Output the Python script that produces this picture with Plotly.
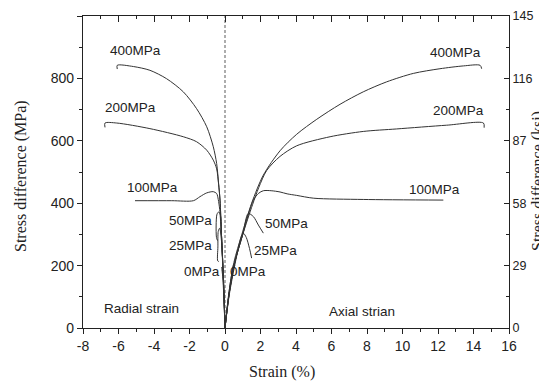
import plotly.graph_objects as go

# ---- data (strain %, stress difference MPa) ----
ax400_x = [0, 0.2, 0.5, 0.95, 1.5, 2.16, 3.1, 4.04, 5.17, 6.48, 7.79, 9.11, 10.61, 12.11, 13.43, 14.37, 14.46]
ax400_y = [0, 105, 210, 300, 400, 490, 568, 621, 669, 717, 757, 789, 816, 831, 840, 842, 831]
ax200_x = [0, 0.22, 0.55, 1.0, 1.55, 1.9, 2.35, 3.1, 4.04, 5.92, 7.79, 9.67, 12.49, 14.56, 14.6]
ax200_y = [0, 105, 210, 300, 395, 450, 505, 550, 584, 613, 630, 638, 650, 657, 642]
ax100_x = [0, 0.22, 0.55, 1.0, 1.6, 1.9, 2.16, 2.6, 3.1, 3.5, 4.04, 5.0, 7.79, 12.3]
ax100_y = [0, 105, 210, 300, 410, 432, 440, 440, 436, 430, 425, 416, 412, 410]
ax50_x = [0, 0.22, 0.55, 1.0, 1.31, 1.6, 1.88, 2.16]
ax50_y = [0, 105, 210, 300, 367, 357, 330, 304]
ax25_x = [0, 0.25, 0.6, 0.9, 1.03, 1.2, 1.38, 1.5]
ax25_y = [0, 110, 215, 290, 304, 290, 255, 224]
ax0_x = [0, 0.15, 0.3, 0.45, 0.5, 0.55]
ax0_y = [0, 75, 145, 195, 205, 200]

ra400_x = [0, -0.05, -0.12, -0.2, -0.28, -0.36, -0.47, -0.66, -1.03, -1.6, -2.35, -3.29, -4.23, -5.16, -6.07, -6.07]
ra400_y = [0, 100, 200, 300, 410, 463, 527, 581, 645, 703, 757, 799, 826, 838, 842, 830]
ra200_x = [0, -0.05, -0.12, -0.2, -0.28, -0.36, -0.47, -0.66, -1.03, -1.6, -2.35, -4.23, -6.1, -6.76, -6.76]
ra200_y = [0, 100, 200, 300, 410, 460, 510, 538, 570, 597, 613, 639, 657, 657, 643]
ra100_x = [0, -0.05, -0.12, -0.2, -0.3, -0.38, -0.47, -0.66, -1.03, -1.41, -1.78, -3.0, -5.07]
ra100_y = [0, 100, 200, 300, 380, 412, 431, 437, 433, 421, 408, 408, 408]
ra50_x = [0, -0.06, -0.13, -0.2, -0.25, -0.35, -0.45, -0.5, -0.48, -0.42]
ra50_y = [0, 100, 200, 300, 360, 372, 365, 330, 290, 280]
ra25_x = [0, -0.06, -0.12, -0.2, -0.3, -0.38, -0.4, -0.41, -0.35]
ra25_y = [0, 100, 200, 280, 320, 310, 260, 215, 213]
ra0_x = [0, -0.06, -0.12, -0.18, -0.15]
ra0_y = [0, 90, 160, 195, 192]

curves = [
    (ax400_x, ax400_y), (ax200_x, ax200_y), (ax100_x, ax100_y),
    (ax50_x, ax50_y), (ax25_x, ax25_y), (ax0_x, ax0_y),
    (ra400_x, ra400_y), (ra200_x, ra200_y), (ra100_x, ra100_y),
    (ra50_x, ra50_y), (ra25_x, ra25_y), (ra0_x, ra0_y),
]

# labels: (text, x, y)
labels = [
    ("400MPa", -5.07, 890), ("200MPa", -5.35, 707), ("100MPa", -4.11, 451),
    ("50MPa", -1.97, 346), ("25MPa", -1.97, 266), ("0MPa", -1.3, 182),
    ("0MPa", 1.3, 182), ("50MPa", 3.49, 336), ("25MPa", 2.82, 250),
    ("100MPa", 11.83, 445), ("200MPa", 13.13, 698), ("400MPa", 12.96, 883),
    ("Radial strain", -4.68, 61), ("Axial strian", 7.72, 54),
]

x_ticks = [-8, -6, -4, -2, 0, 2, 4, 6, 8, 10, 12, 14, 16]
x_ticktext = [str(v) for v in x_ticks]
mpa_ticks = [0, 200, 400, 600, 800, 1000]
ksi_ticks = [0, 29, 58, 87, 116, 145]

fig = go.Figure()

fig.add_trace(go.Scatter(x=[0, 0], y=[0, 1000], mode="lines",
                         line=dict(color="#777", width=1.2, dash="3px,2px"),
                         showlegend=False, hoverinfo="skip"))
for cx, cy in curves:
    fig.add_trace(go.Scatter(x=cx, y=cy, mode="lines", line_shape="spline",
                             line=dict(color="#333", width=1, smoothing=0.8),
                             showlegend=False))

fig.add_trace(go.Scatter(x=[None], y=[None], xaxis="x2", yaxis="y2", showlegend=False))

for t, x, y in labels:
    fig.add_annotation(x=x, y=y, text=t, showarrow=False, xref="x", yref="y",
                       font=dict(family="Liberation Sans, Arial", size=13.5, color="#222"))

titlefont = dict(family="Liberation Serif, Times New Roman", size=16, color="#222")
# page body adds an 8px offset; figure size and margins compensate for it
OFF = 8
W, H = 547 - OFF, 383 - OFF
L, R, T, B = 83 - OFF, 38, 16 - OFF, 55
pw = W - L - R
ph = H - T - B

def px_x(p):
    return (p - OFF - L) / pw

def px_y(p):
    return (H - B - (p - OFF)) / ph

for text, xp, yp, ang in [("Strain (%)", 282, 372, 0),
                          ("Stress difference (MPa)", 21, 176, -90),
                          ("Stress difference (ksi)", 538, 181, -90)]:
    fig.add_annotation(text=text, x=px_x(xp), y=px_y(yp), xref="paper", yref="paper",
                       xanchor="center", yanchor="middle", showarrow=False,
                       textangle=ang, font=titlefont)

tickfont = dict(family="Liberation Sans, Arial", size=14, color="#222")

fig.update_layout(
    width=W, height=H,
    margin=dict(l=L, r=R, t=T, b=B, autoexpand=False),
    plot_bgcolor="white", paper_bgcolor="white",
    xaxis=dict(range=[-8, 16], tickvals=x_ticks, ticktext=x_ticktext, ticks="outside", ticklen=5,
               tickwidth=1, tickcolor="#222", showline=True, linecolor="#222",
               linewidth=1.2, showgrid=False, zeroline=False, tickfont=tickfont,
               automargin=False,
               minor=dict(dtick=1, ticks="outside", ticklen=3, tickcolor="#222")),
    xaxis2=dict(range=[-8, 16], dtick=2, tick0=0, overlaying="x", side="top",
                anchor="y", ticks="inside", ticklen=6, tickcolor="#222",
                showline=True, linecolor="#222", linewidth=1.2, showgrid=False,
                zeroline=False, showticklabels=False, automargin=False,
                minor=dict(dtick=1, ticks="inside", ticklen=3, tickcolor="#222")),
    yaxis=dict(range=[0, 1000], tickvals=mpa_ticks, ticks="outside", ticklen=5,
               tickcolor="#222", showline=True, linecolor="#222", linewidth=1.2,
               showgrid=False, zeroline=False, tickfont=tickfont, automargin=False,
               minor=dict(dtick=100, ticks="outside", ticklen=3, tickcolor="#222")),
    yaxis2=dict(range=[0, 145], tickvals=ksi_ticks, overlaying="y", side="right",
                anchor="x", ticks="inside", ticklen=5, tickcolor="#222",
                showline=True, linecolor="#222", linewidth=1.2, showgrid=False,
                zeroline=False, automargin=False,
                tickfont=dict(family="Liberation Sans, Arial", size=12.5, color="#222"),
                minor=dict(dtick=14.5, ticks="inside", ticklen=3, tickcolor="#222")),
)

fig.write_html("out.html")
